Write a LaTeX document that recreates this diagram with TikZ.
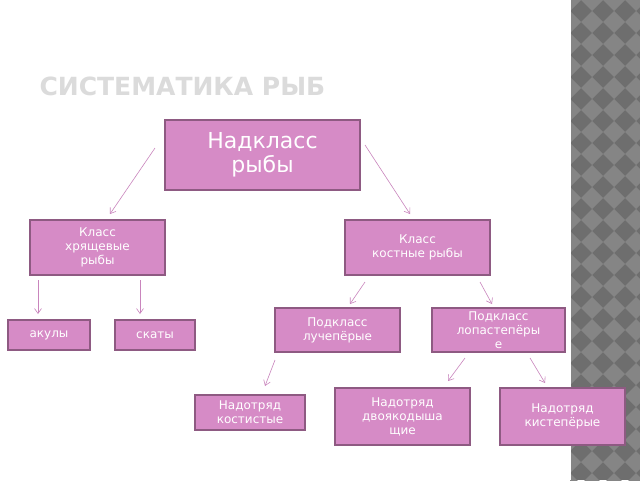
\documentclass[tikz,border=0pt]{standalone}
\usepackage{fontspec}
\setmainfont{DejaVu Sans}
\usetikzlibrary{arrows.meta}
\definecolor{boxfill}{HTML}{D68BC6}
\definecolor{boxline}{HTML}{8E5A82}
\definecolor{arr}{HTML}{C985BD}
\definecolor{strip}{HTML}{6E6E6E}
\definecolor{stripl}{HTML}{858585}
\begin{document}
\begin{tikzpicture}[x=1pt,y=-1pt,
  box/.style={draw=boxline,line width=1.6pt,fill=boxfill,text=white,align=center,inner sep=0pt},
  conn/.style={draw=arr,line width=0.6pt,-{Straight Barb[length=5pt,width=7pt]}}]
\useasboundingbox (0,0) rectangle (640,480);
\fill[white] (0,0) rectangle (640,480);
\fill[strip] (570,0) rectangle (640,480);
\begin{scope}
\clip (570,0) rectangle (640,480);
\foreach \i in {0,...,4}{\foreach \j in {0,...,23}{
  \fill[stripl] ({570+\i*22},{\j*22-11}) -- ++(11,11) -- ++(-11,11) -- ++(-11,-11) -- cycle;
}}
\end{scope}
\draw[white,line width=1pt] (570,0) -- (570,480);
\node[anchor=west,text=black!14,font=\bfseries\fontsize{25}{25}\selectfont] (title) at (36,86) {СИСТЕМАТИКА РЫБ};
\node[box,minimum width=195pt,minimum height=70pt,font=\fontsize{22}{24}\selectfont] (top) at (262.5,155) {Надкласс\\рыбы};
\node[box,minimum width=135pt,minimum height=55pt,font=\fontsize{12}{14}\selectfont] (hr) at (97.5,247.5) {Класс\\хрящевые\\рыбы};
\node[box,minimum width=145pt,minimum height=55pt,font=\fontsize{12}{14}\selectfont] (ko) at (417.5,247.5) {Класс\\костные рыбы};
\node[box,minimum width=82pt,minimum height=30pt,font=\fontsize{12}{14}\selectfont] (ak) at (49,335) {акулы};
\node[box,minimum width=80pt,minimum height=30pt,font=\fontsize{12}{14}\selectfont] (sk) at (155,335) {скаты};
\node[box,minimum width=125pt,minimum height=44pt,font=\fontsize{12}{14}\selectfont] (lu) at (337.5,330) {Подкласс\\лучепёрые};
\node[box,minimum width=133pt,minimum height=44pt,font=\fontsize{12}{14}\selectfont] (lo) at (498.5,330) {Подкласс\\лопастепёры\\е};
\node[box,minimum width=110pt,minimum height=35pt,font=\fontsize{12}{14}\selectfont] (kost) at (250,412.5) {Надотряд\\костистые};
\node[box,minimum width=135pt,minimum height=57pt,font=\fontsize{12}{14}\selectfont] (dv) at (402.5,416.5) {Надотряд\\двоякодыша\\щие};
\node[box,minimum width=125pt,minimum height=57pt,font=\fontsize{12}{14}\selectfont] (ki) at (562.5,416.5) {Надотряд\\кистепёрые};
\coordinate (a1) at (155,148); \coordinate (b1) at (110,214);
\coordinate (a2) at (365,145); \coordinate (b2) at (410,214);
\draw[conn] (a1) -- (b1);
\draw[conn] (a2) -- (b2);
\draw[conn] (38,280) -- (38,314);
\draw[conn] (140,280) -- (140,314);
\draw[conn] (365,282) -- (350,304);
\draw[conn] (480,282) -- (492,304);
\draw[conn] (275,360) -- (265,386);
\draw[conn] (465,358) -- (448,381);
\draw[conn] (530,358) -- (545,383);
\end{tikzpicture}
\end{document}
